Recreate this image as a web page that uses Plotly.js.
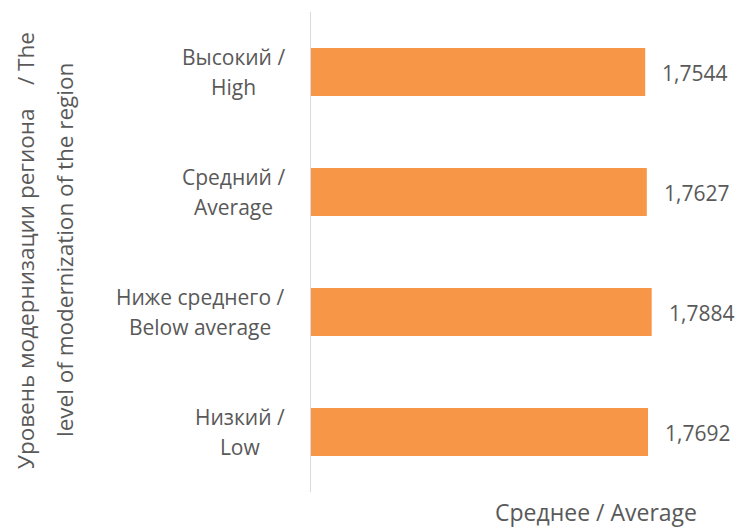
<!DOCTYPE html>
<html><head><meta charset="utf-8">
<script src="https://cdn.plot.ly/plotly-3.0.1.min.js"></script>
<style>html,body{margin:0;padding:0;background:#fff}</style>
</head><body><div id="chart" style="width:735px;height:527px"></div>
<script>
// Data
const categoryLines = [
  ['Высокий /', 'High'],
  ['Средний /', 'Average'],
  ['Ниже среднего /', 'Below average'],
  ['Низкий /', 'Low']
];
const values = [1.7544, 1.7627, 1.7884, 1.7692];
const xAxisTitle = 'Среднее / Average';
const yTitleLine1 = 'Уровень модернизации региона\u00A0\u00A0\u00A0 / The';
const yTitleLine2 = 'level of modernization of the region';

const categories = categoryLines.map(l => l.join(' '));
const fmt = v => v.toFixed(4).replace('.', ',');

const textColor = '#595959';
const fontFam = '"Open Sans", "Noto Sans", sans-serif';
const fs = 21;

const annotations = [];
categoryLines.forEach((lines, i) => {
  annotations.push({
    x: 0, xref: 'x', y: categories[i], yref: 'y',
    xanchor: 'right', yanchor: 'middle', xshift: -24, align: 'center',
    showarrow: false,
    text: lines.map(t => '<span style="font-size:' + fs + 'px">' + t + '</span>').join('<br>'),
    font: {family: fontFam, size: 23, color: textColor}
  });
  annotations.push({
    x: values[i], xref: 'x', y: categories[i], yref: 'y',
    xanchor: 'left', yanchor: 'middle', xshift: 15, yshift: -1,
    showarrow: false, text: fmt(values[i]),
    font: {family: fontFam, size: fs, color: textColor}
  });
});
annotations.push({
  x: 0, xref: 'paper', y: 0.5, yref: 'paper', xshift: -286, yshift: 1,
  xanchor: 'center', yanchor: 'middle', textangle: -90, showarrow: false,
  text: yTitleLine1, font: {family: fontFam, size: 22.5, color: textColor}
});
annotations.push({
  x: 0, xref: 'paper', y: 0.5, yref: 'paper', xshift: -247, yshift: 2,
  xanchor: 'center', yanchor: 'middle', textangle: -90, showarrow: false,
  text: yTitleLine2, font: {family: fontFam, size: 22.5, color: textColor}
});
annotations.push({
  x: 0, xref: 'paper', y: 0, yref: 'paper', xshift: 285, yshift: -20,
  xanchor: 'center', yanchor: 'middle', showarrow: false,
  text: xAxisTitle, font: {family: fontFam, size: 23, color: textColor}
});

const trace = {
  type: 'bar', orientation: 'h',
  x: values, y: categories, width: 0.4,
  marker: {color: '#F79646'},
  hoverinfo: 'skip'
};

const layout = {
  width: 735, height: 527,
  margin: {l: 311, r: 43, t: 12, b: 35, pad: 0},
  paper_bgcolor: '#ffffff', plot_bgcolor: '#ffffff',
  separators: ',.',
  showlegend: false,
  font: {family: fontFam, color: textColor},
  xaxis: {range: [0, 2], showticklabels: false, showgrid: false, zeroline: false, showline: false, ticks: ''},
  yaxis: {type: 'category', autorange: 'reversed', showticklabels: false, showgrid: false, zeroline: false,
          showline: true, linecolor: '#D9D9D9', linewidth: 1.5, ticks: ''},
  annotations: annotations
};

Plotly.newPlot('chart', [trace], layout, {displayModeBar: false, staticPlot: true});
</script>
</body></html>
